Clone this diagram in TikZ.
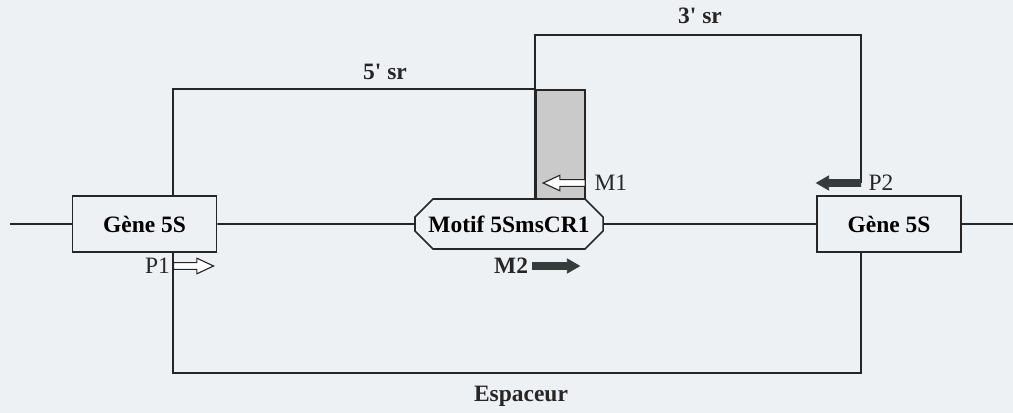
\documentclass[tikz,border=0pt]{standalone}
\usepackage{fontspec}
\setmainfont{Liberation Serif}
\usetikzlibrary{arrows.meta, positioning, shapes.misc, shapes.arrows, calc}
\definecolor{cbg}{HTML}{EEF1F4}
\definecolor{cline}{HTML}{262626}
\definecolor{cshade}{HTML}{CACACA}
\definecolor{cdark}{HTML}{363B3C}
\tikzset{
  every picture/.style={line width=1.1pt},
  genebox/.style={draw=cline, fill=cbg, minimum width=3.6cm, minimum height=1.4cm, font=\fontsize{16.7}{19}\selectfont\bfseries},
  motifbox/.style={chamfered rectangle, chamfered rectangle xsep=0.38cm, chamfered rectangle ysep=0.24cm, draw=cline, fill=cbg, minimum width=4.7cm, minimum height=1.25cm, inner sep=0pt, font=\fontsize{16.7}{19}\selectfont\bfseries},
  srbox/.style={draw=cline, fill=cshade, minimum width=1.225cm, minimum height=2.725cm, inner sep=0pt},
  wire/.style={draw=cline},
  lbl/.style={font=\fontsize{16.7}{19}\selectfont, text=cline, inner sep=0pt},
  blbl/.style={lbl, font=\fontsize{16.7}{19}\selectfont\bfseries},
  hollow/.style={single arrow, draw=cline, fill=white, line width=0.8pt, inner xsep=0pt, inner ysep=0.07cm, single arrow head extend=0.11cm, single arrow tip angle=50, single arrow head indent=0pt},
  darkarrow/.style={single arrow, draw=cdark, fill=cdark, line width=0.6pt, inner xsep=0pt, inner ysep=0.075cm, single arrow head extend=0.09cm, single arrow tip angle=60, single arrow head indent=0pt},
}
\begin{document}
\begin{tikzpicture}[x=0.025cm, y=-0.025cm]
  \fill[cbg] (0,0) rectangle (1013,413);
  \useasboundingbox (0,0) rectangle (1013,413);
  % backbone
  \node[genebox] (gene1) at (144.5,224) {Gène 5S};
  \node[motifbox] (motif) at (509,224) {Motif 5SmsCR1};
  \node[genebox] (gene2) at (889,224) {Gène 5S};
  \coordinate (lend) at (10,224);
  \coordinate (rend) at (1013,224);
  \draw[wire] (lend) -- (gene1); \draw[wire] (gene1) -- (motif); \draw[wire] (motif) -- (gene2); \draw[wire] (gene2) -- (rend);
  % repeated region
  \node[srbox] (sr) at (560.5,144.5) {};
  \coordinate (p1) at (173,266);
  \coordinate (p2) at (861,183);
  \coordinate (sp) at (521,373);
  \draw[wire] (gene1.north -| p1) |- (sr.north west);
  \draw[wire, line width=2pt] (sr.south west) -- (sr.north west);
  \draw[wire] (sr.north west) -- (sr.north west |- 0,35) -| (p2);
  \draw[wire] (gene1.south -| p1) |- (sp) -| (gene2.south -| p2);
  \node[blbl] (l5) at (385,72) {5\textquotesingle\ sr};
  \node[blbl] (l3) at (700,16) {3\textquotesingle\ sr};
  \node[blbl] (esp) at (521,396) {Espaceur};
  % primers
  \node[hollow, anchor=tail, minimum height=1cm] (aP1) at (p1) {};
  \node[lbl, left=0.06cm of p1] (tP1) {P1};
  \node[darkarrow, shape border rotate=180, anchor=tail, minimum height=1.1cm] (aP2) at (p2) {};
  \node[lbl, right=0.17cm of p2] (tP2) {P2};
  \node[hollow, shape border rotate=180, anchor=tail, minimum height=1.05cm] (aM1) at (sr.east |- p2) {};
  \node[lbl, right=0.2cm of aM1.tail] (tM1) {M1};
  \node[darkarrow, anchor=tail, minimum height=1.175cm] (aM2) at (532,266) {};
  \node[blbl, left=0.08cm of aM2.tail] (tM2) {M2};
\end{tikzpicture}
\end{document}
